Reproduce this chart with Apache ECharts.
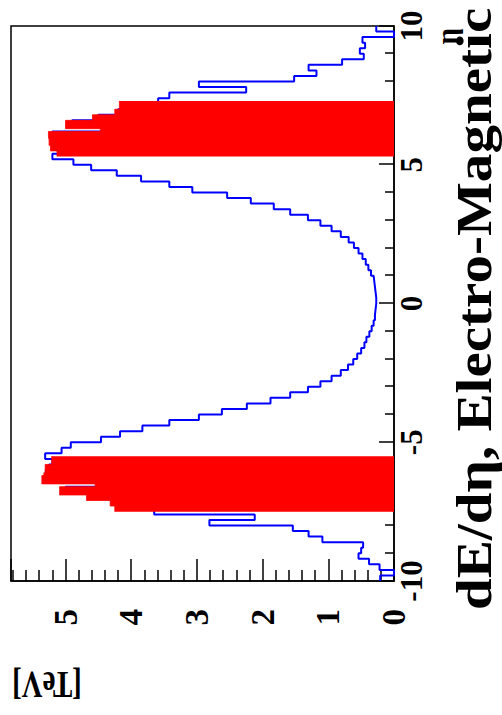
<!DOCTYPE html>
<html>
<head>
<meta charset="utf-8">
<script src="https://cdn.jsdelivr.net/npm/echarts@6/dist/echarts.min.js"></script>
<style>
html, body { margin: 0; padding: 0; background: #fff; overflow: hidden; width: 502px; height: 715px; }
#wrap { position: absolute; left: 0; top: 0; width: 715px; height: 502px;
        transform-origin: 0 0; transform: translate(0px, 715px) rotate(-90deg); }
#chart { width: 715px; height: 502px; }
</style>
</head>
<body>
<div id="wrap"><div id="chart"></div></div>
<script>
// ---- data ----
const etaMin = -10;
const etaMax = 10;
const binWidth = 0.2;
// dE/d eta, electro-magnetic [TeV], 100 bins from -10 to 10 (blue outline)
const emValues = [
  0.21, 0.00, 0.22, 0.38, 0.54, 0.50, 0.47, 1.09, 1.30, 1.54,
  2.81, 2.12, 3.65, 4.20, 4.30, 4.60, 5.00, 4.50, 5.30, 5.30,
  5.25, 5.20, 5.31, 5.06, 4.92, 4.46, 4.17, 3.83, 3.42, 2.97,
  2.62, 2.24, 1.88, 1.58, 1.31, 1.12, 0.95, 0.81, 0.70, 0.62,
  0.56, 0.50, 0.45, 0.42, 0.375, 0.34, 0.31, 0.29, 0.28, 0.27,
  0.27, 0.28, 0.29, 0.30, 0.31, 0.35, 0.39, 0.43, 0.48, 0.54,
  0.61, 0.69, 0.81, 0.95, 1.12, 1.31, 1.58, 1.83, 2.18, 2.54,
  3.07, 3.42, 3.85, 4.22, 4.61, 4.88, 5.20, 5.10, 5.20, 5.20,
  5.20, 4.40, 4.90, 4.50, 4.20, 4.10, 3.59, 3.42, 2.25, 2.97,
  1.52, 1.18, 1.30, 0.79, 0.46, 0.52, 0.44, 0.48, 0.00, 0.27
];
// red filled histograms (bins of 0.1)
const redBinWidth = 0.1;
const redLowStart = -7.5;
const redLowValues = [
  4.25, 4.25, 4.32, 4.32, 4.68, 4.68, 5.09, 5.09, 5.09, 4.55,
  5.36, 5.36, 5.36, 5.33, 5.31, 5.31, 5.31, 5.21, 5.21, 5.21
];
const redHighStart = 5.3;
const redHighValues = [
  5.13, 5.13, 5.23, 5.23, 5.25, 5.25, 5.26, 5.26, 5.26, 4.47,
  5.00, 5.00, 5.00, 4.59, 4.59, 4.25, 4.25, 4.18, 4.18, 4.18
];
const valueMax = 5.83;
const etaTicks = [-10, -5, 0, 5, 10];
const etaTickLabels = ['-10', '-5', '0', '5', '10'];
const valueTicks = [0, 1, 2, 3, 4, 5];
const valueTickLabels = ['0', '1', '2', '3', '4', '5'];
const xTitle = 'η';
const yTitle = '[TeV]';
const caption = 'dE/dη, Electro-Magnetic';

// ---- build ----
function stepData(start, width, values) {
  const pts = values.map((v, i) => [+(start + i * width).toFixed(4), v]);
  pts.push([+(start + values.length * width).toFixed(4), values[values.length - 1]]);
  return pts;
}
function lookup(ticks, labels, v) {
  for (let i = 0; i < ticks.length; i++) if (Math.abs(ticks[i] - v) < 1e-6) return labels[i];
  return '';
}
const FONT = '"Liberation Serif", "Times New Roman", "DejaVu Serif", serif';
const BLACK = '#000';

const chart = echarts.init(document.getElementById('chart'), null, { renderer: 'svg', width: 715, height: 502 });
chart.setOption({
  animation: false,
  backgroundColor: '#fff',
  grid: { left: 134, right: 26, top: 11, bottom: 108, show: true, borderColor: BLACK, borderWidth: 1.5, backgroundColor: 'transparent' },
  xAxis: {
    type: 'value', min: etaMin, max: etaMax, interval: 5, position: 'bottom',
    axisLine: { show: true, onZero: false, lineStyle: { color: BLACK, width: 1.5 } },
    axisTick: { show: true, inside: true, length: 15, lineStyle: { color: BLACK, width: 1.5 } },
    minorTick: { show: true, splitNumber: 5, length: 9, lineStyle: { color: BLACK, width: 1.5 } },
    splitLine: { show: false },
    axisLabel: { margin: 2, color: BLACK, fontFamily: FONT, fontWeight: 'bold', fontSize: 31,
                 formatter: v => lookup(etaTicks, etaTickLabels, v) }
  },
  yAxis: {
    type: 'value', min: 0, max: valueMax, interval: 1,
    axisLine: { show: true, onZero: false, lineStyle: { color: BLACK, width: 1.5 } },
    axisTick: { show: true, inside: true, length: 22, lineStyle: { color: BLACK, width: 1.5 } },
    minorTick: { show: true, splitNumber: 5, length: 11, lineStyle: { color: BLACK, width: 1.5 } },
    splitLine: { show: false },
    axisLabel: { margin: 28, color: BLACK, fontFamily: FONT, fontWeight: 'bold', fontSize: 33,
                 formatter: v => lookup(valueTicks, valueTickLabels, v) }
  },
  series: [
    { type: 'line', step: 'end', symbol: 'none', z: 2,
      data: stepData(etaMin, binWidth, emValues),
      lineStyle: { color: '#0000ff', width: 2 } },
    { type: 'line', step: 'end', symbol: 'none', z: 3,
      data: stepData(redLowStart, redBinWidth, redLowValues),
      lineStyle: { color: '#ff0000', width: 0.8 },
      areaStyle: { color: '#ff0000', opacity: 1 } },
    { type: 'line', step: 'end', symbol: 'none', z: 3,
      data: stepData(redHighStart, redBinWidth, redHighValues),
      lineStyle: { color: '#ff0000', width: 0.8 },
      areaStyle: { color: '#ff0000', opacity: 1 } }
  ],
  graphic: [
    { type: 'text', x: 105, y: 474, scaleX: 1.12,
      style: { text: caption, fill: BLACK, fontFamily: FONT, fontWeight: 'bold', fontSize: 51, lineHeight: 38, align: 'left', verticalAlign: 'middle' } },
    { type: 'text', x: 687, y: 447,
      style: { text: xTitle, fill: BLACK, fontFamily: FONT, fontWeight: 'bold', fontSize: 29, align: 'right', verticalAlign: 'middle' } },
    { type: 'text', x: 30, y: 12, rotation: Math.PI / 2, scaleY: 1.3,
      style: { text: yTitle, fill: BLACK, fontFamily: FONT, fontWeight: 'bold', fontSize: 29, align: 'right', verticalAlign: 'middle' } }
  ]
});
</script>
</body>
</html>
